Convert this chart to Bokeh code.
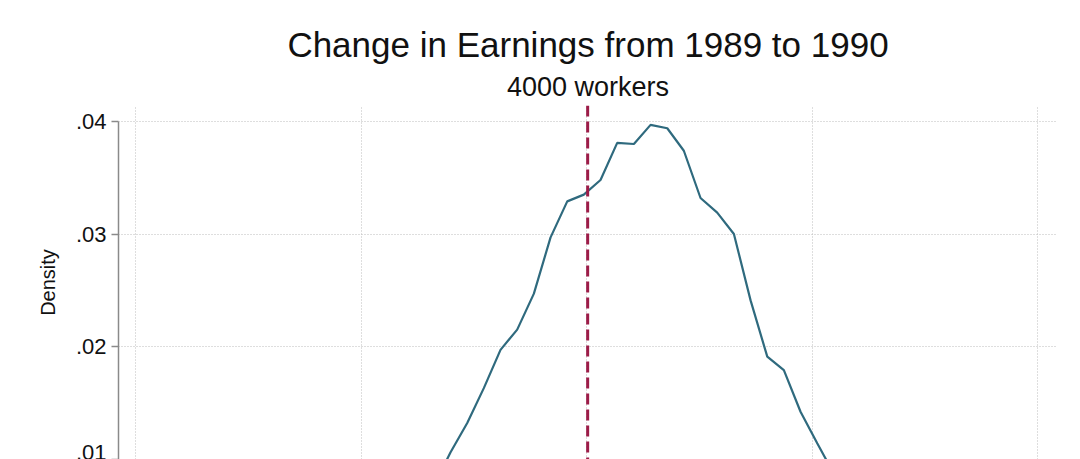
from bokeh.plotting import figure
from bokeh.models import Title, Span, FixedTicker, Range1d
from bokeh.embed import file_html
from bokeh.resources import INLINE

# Kernel density of the earnings change (evaluation points and density)
change = [-28.0, -24.0, -20.0, -16.50, -15.02, -13.54, -12.06, -10.58, -9.11, -7.63,
          -6.15, -4.67, -3.19, -1.71, -0.24, 1.24, 2.72, 4.20, 5.68, 7.16,
          8.63, 10.11, 11.59, 13.07, 14.55, 16.03, 17.50, 18.98, 20.46, 21.93,
          23.41, 24.89, 28.0, 32.0, 36.0]
density = [0.0004, 0.0015, 0.0035, 0.0058, 0.0066, 0.0076, 0.0106, 0.0132, 0.0163, 0.0197,
           0.0215, 0.0247, 0.0297, 0.0329, 0.0335, 0.0348, 0.0381, 0.0380, 0.0397, 0.0394,
           0.0374, 0.0332, 0.0319, 0.0300, 0.0241, 0.0191, 0.0179, 0.0142, 0.0114, 0.0087,
           0.0066, 0.0050, 0.0026, 0.0010, 0.0003]
mean_change = 0.1

title_text = "Change in Earnings from 1989 to 1990"
subtitle_text = "4000 workers"
y_ticks = [0.0, 0.01, 0.02, 0.03, 0.04]
y_tick_labels = ["0", ".01", ".02", ".03", ".04"]
x_ticks = [-40, -20, 0, 20, 40]

FONT = "Liberation Sans"

p = figure(width=1080, height=459, output_backend="svg", toolbar_location=None,
           x_range=Range1d(-41.51, 41.77), y_range=Range1d(0.009956, 0.041422),
           min_border_left=118, min_border_right=23, min_border_top=105,
           min_border_bottom=0, outline_line_color=None)

p.title.text = ""
p.add_layout(Title(text=subtitle_text, align="center", text_font=FONT,
                   text_font_size="27px", text_font_style="normal",
                   text_color="#111111", standoff=8), "above")
p.add_layout(Title(text=title_text, align="center", text_font=FONT,
                   text_font_size="35px", text_font_style="normal",
                   text_color="#111111", standoff=4), "above")

# x axis lies below the visible area; keep its gridlines
p.xaxis.visible = False
p.xaxis.ticker = FixedTicker(ticks=x_ticks)
p.xgrid.ticker = FixedTicker(ticks=x_ticks)

yax = p.yaxis[0]
yax.ticker = FixedTicker(ticks=y_ticks)
yax.major_label_overrides = {t: s for t, s in zip(y_ticks, y_tick_labels)}
yax.bounds = (0.0, 0.04)
yax.axis_label = "Density"
yax.axis_label_text_font = FONT
yax.axis_label_text_font_size = "20px"
yax.axis_label_text_font_style = "normal"
yax.axis_label_text_color = "#111111"
yax.axis_label_standoff = 14
yax.major_label_text_font = FONT
yax.major_label_text_font_size = "22px"
yax.major_label_text_color = "#111111"
yax.major_label_standoff = 5
yax.axis_line_color = "#8a8a8a"
yax.axis_line_width = 1.5
yax.major_tick_line_color = "#8a8a8a"
yax.major_tick_line_width = 1.5
yax.major_tick_out = 7
yax.major_tick_in = 0
yax.minor_tick_line_color = None

for g in (p.xgrid, p.ygrid):
    g.grid_line_color = "#bcbcbc"
    g.grid_line_width = 1
    g.grid_line_dash = "1 2"

p.line(change, density, line_color="#2f6a7e", line_width=2.2)

p.add_layout(Span(location=mean_change, dimension="height", line_color="#9c1c48",
                  line_width=3, line_dash="11 5"))

open("out.html", "w").write(file_html(p, INLINE))
